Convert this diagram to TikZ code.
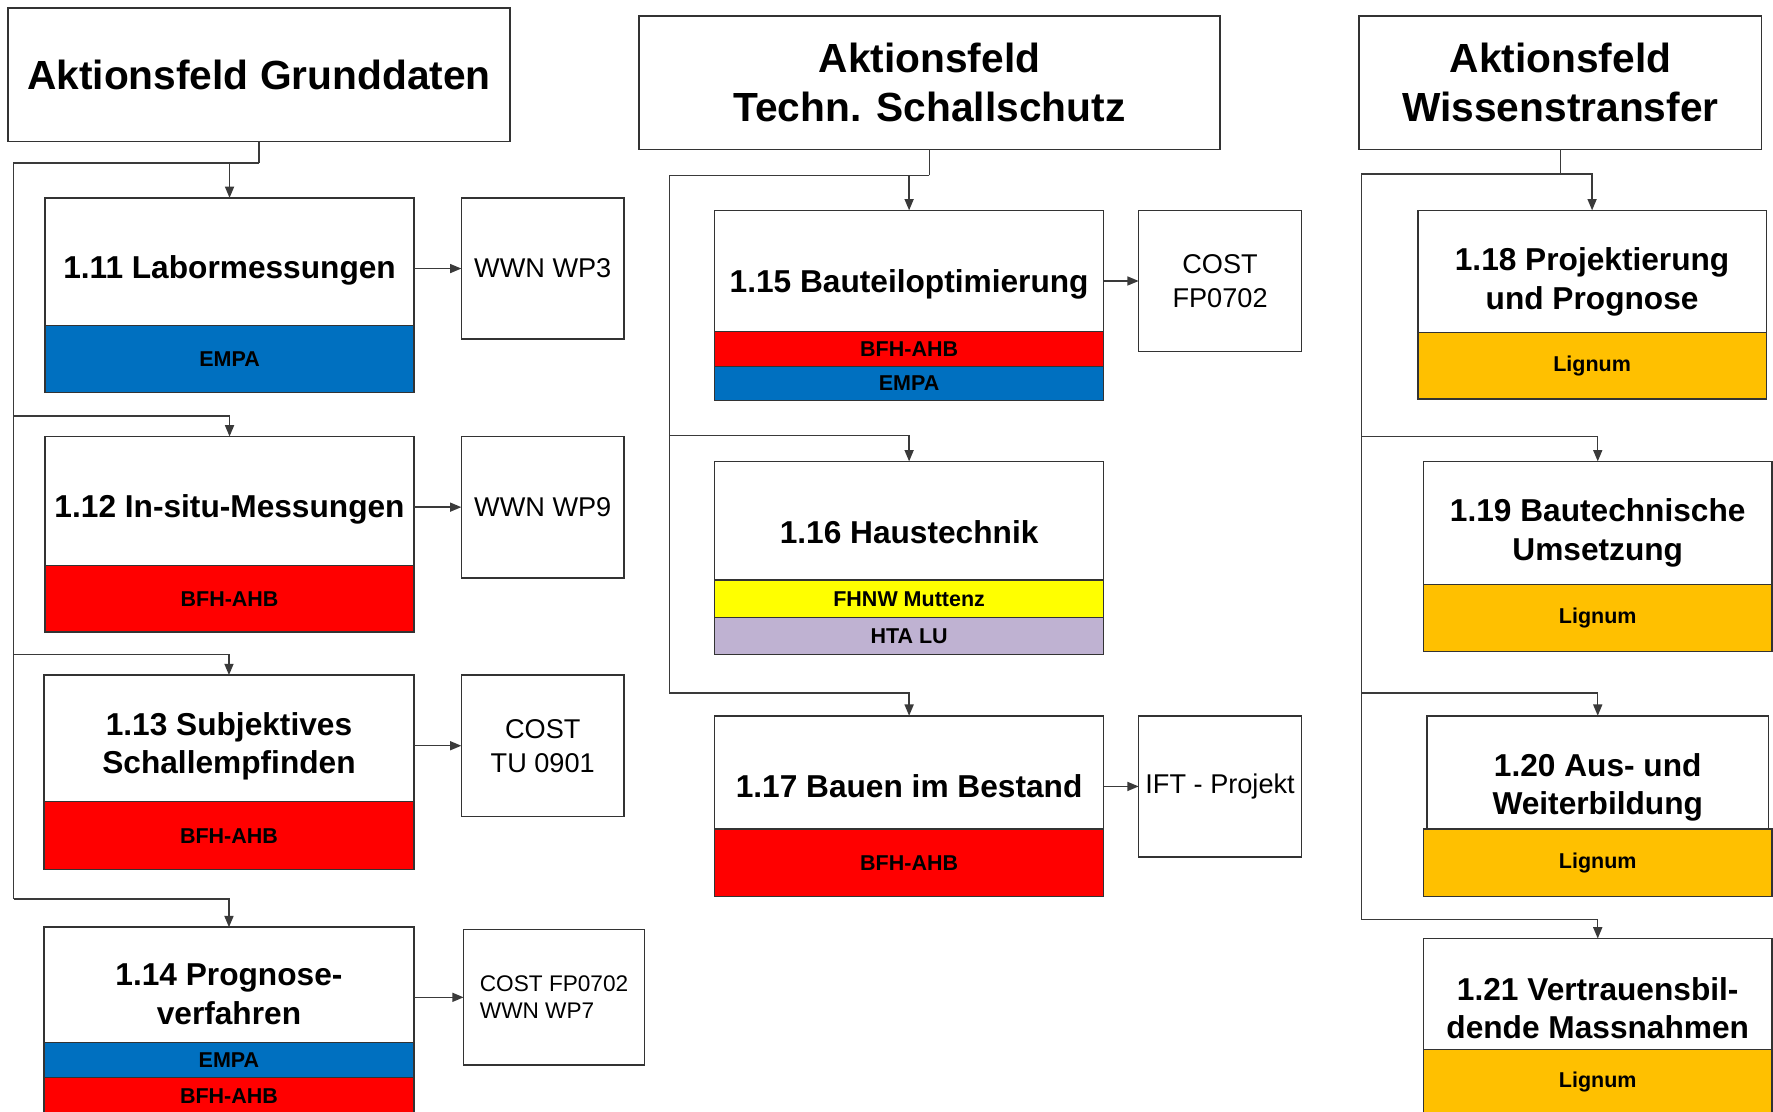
\documentclass[tikz,border=0pt]{standalone}
\usepackage{fontspec}
\setmainfont{Liberation Sans}
\usetikzlibrary{arrows.meta}
\definecolor{bordercol}{HTML}{333333}
\definecolor{linecol}{HTML}{3A3A3A}
\definecolor{empablue}{HTML}{0070C0}
\definecolor{bfhred}{HTML}{FF0000}
\definecolor{fhnwyellow}{HTML}{FFFF00}
\definecolor{htalav}{RGB}{191,178,210}
\definecolor{lignumorange}{HTML}{FFC000}
\begin{document}
\begin{tikzpicture}[x=1pt,y=-1pt,
  base/.style={draw=bordercol, line width=1.3pt, outer sep=0pt, inner sep=0pt, anchor=north west},
  hdr/.style={base, fill=white, font=\bfseries\fontsize{36}{43}\selectfont, align=center},
  task/.style={base, fill=white, font=\bfseries\fontsize{28}{34}\selectfont, align=center, text height=36pt},
  band/.style={base, font=\bfseries\fontsize{19}{21}\selectfont},
  side/.style={base, fill=white, font=\fontsize{24}{30}\selectfont, align=center},
  line/.style={draw=linecol, line width=1.3pt},
  arr/.style={line, -{Triangle[length=10pt,width=8pt]}}]
\clip (0,0) rectangle (1568,983);
\fill[white] (0,0) rectangle (1568,983);

% ---------- Column 1 ----------
\node[hdr, minimum width=444, minimum height=118] (h1) at (7,7) {Aktionsfeld Grunddaten};

\node[task, minimum width=326, minimum height=113] (t11) at (40,175) {1.11 Labormessungen};
\node[band, fill=empablue, minimum width=326, minimum height=59] (b11) at (40,288) {EMPA};
\node[side, minimum width=144, minimum height=125] (s11) at (408,175) {WWN WP3};

\node[task, minimum width=326, minimum height=114] (t12) at (40,386) {1.12 In-situ-Messungen};
\node[band, fill=bfhred, minimum width=326, minimum height=59] (b12) at (40,500) {BFH-AHB};
\node[side, minimum width=144, minimum height=125] (s12) at (408,386) {WWN WP9};

\node[task, text height=68pt, minimum width=327, minimum height=112] (t13) at (39,597) {1.13 Subjektives\\Schallempfinden};
\node[band, fill=bfhred, minimum width=327, minimum height=60] (b13) at (39,709) {BFH-AHB};
\node[side, minimum width=144, minimum height=125] (s13) at (408,597) {COST\\TU 0901};

\node[task, text height=70pt, minimum width=327, minimum height=102] (t14) at (39,820) {1.14 Prognose-\\verfahren};
\node[band, fill=empablue, minimum width=327, minimum height=31] (b14a) at (39,922) {EMPA};
\node[band, fill=bfhred, minimum width=327, minimum height=32] (b14b) at (39,953) {BFH-AHB};
\node[side, minimum width=160, minimum height=120, align=left, font=\fontsize{20}{24}\selectfont] (s14) at (410,822) {COST FP0702\\WWN WP7};

\coordinate (j1) at (229,144);
\coordinate (s1a) at (12,144);
\coordinate (s1b) at (12,795);
\coordinate (c12) at (12,368);
\coordinate (c13) at (12,579);
\draw[line] (h1.south) -- (j1);
\draw[arr] (j1) -| (t11.north);
\draw[line] (j1) -- (s1a) -- (s1b);
\draw[arr] (s1b) -| (t14.north);
\draw[arr] (c12) -| (t12.north);
\draw[arr] (c13) -| (t13.north);
\draw[arr] (t11.east |- s11.west) -- (s11.west);
\draw[arr] (t12.east |- s12.west) -- (s12.west);
\draw[arr] (t13.east |- s13.west) -- (s13.west);
\draw[arr] (t14.east |- s14.west) -- (s14.west);

% ---------- Column 2 ----------
\node[hdr, minimum width=514, minimum height=118] (h2) at (565,14) {Aktionsfeld\\Techn. Schallschutz};

\node[task, text height=44pt, minimum width=344, minimum height=107] (t15) at (632,186) {1.15 Bauteiloptimierung};
\node[band, fill=bfhred, minimum width=344, minimum height=31] (b15a) at (632,293) {BFH-AHB};
\node[band, fill=empablue, minimum width=344, minimum height=30] (b15b) at (632,324) {EMPA};
\node[side, minimum width=144, minimum height=125] (s15) at (1007,186) {COST\\FP0702};

\node[task, text height=40pt, minimum width=344, minimum height=105] (t16) at (632,408) {1.16 Haustechnik};
\node[band, fill=fhnwyellow, minimum width=344, minimum height=33] (b16a) at (632,513) {FHNW Muttenz};
\node[band, fill=htalav, minimum width=344, minimum height=33] (b16b) at (632,546) {HTA LU};

\node[task, text height=44pt, minimum width=344, minimum height=100] (t17) at (632,633) {1.17 Bauen im Bestand};
\node[band, fill=bfhred, minimum width=344, minimum height=60] (b17) at (632,733) {BFH-AHB};
\node[side, minimum width=144, minimum height=125] (s17) at (1007,633) {IFT - Projekt};

\coordinate (j2) at (822,155);
\coordinate (s2a) at (592,155);
\coordinate (s2b) at (592,613);
\coordinate (c16) at (592,385);
\draw[line] (h2.south) -- (j2);
\draw[arr] (j2) -| (t15.north);
\draw[line] (j2) -- (s2a) -- (s2b);
\draw[arr] (s2b) -| (t17.north);
\draw[arr] (c16) -| (t16.north);
\draw[arr] (t15.east |- s15.west) -- (s15.west);
\draw[arr] (t17.east |- s17.west) -- (s17.west);

% ---------- Column 3 ----------
\node[hdr, minimum width=356, minimum height=118] (h3) at (1202,14) {Aktionsfeld\\Wissenstransfer};

\node[task, text height=73pt, minimum width=308, minimum height=108] (t18) at (1254,186) {1.18 Projektierung\\und Prognose};
\node[band, fill=lignumorange, minimum width=308, minimum height=59] (b18) at (1254,294) {Lignum};

\node[task, text height=72pt, minimum width=308, minimum height=109] (t19) at (1259,408) {1.19 Bautechnische\\Umsetzung};
\node[band, fill=lignumorange, minimum width=308, minimum height=59] (b19) at (1259,517) {Lignum};

\node[task, text height=81pt, minimum width=302, minimum height=100] (t20) at (1262,633) {1.20 Aus- und\\Weiterbildung};
\node[band, fill=lignumorange, minimum width=308, minimum height=60] (b20) at (1259,733) {Lignum};

\node[task, text height=79pt, minimum width=308, minimum height=98] (t21) at (1259,830) {1.21 Vertrauensbil-\\dende Massnahmen};
\node[band, fill=lignumorange, minimum width=308, minimum height=58] (b21) at (1259,928) {Lignum};

\coordinate (j3) at (1380,154);
\coordinate (s3a) at (1204,154);
\coordinate (s3b) at (1204,813);
\coordinate (c19) at (1204,386);
\coordinate (c20) at (1204,613);
\draw[line] (h3.south) -- (j3);
\draw[arr] (s3a) -| (t18.north);
\draw[line] (s3a) -- (s3b);
\draw[arr] (s3b) -| (t21.north);
\draw[arr] (c19) -| (t19.north);
\draw[arr] (c20) -| (t20.north);
\end{tikzpicture}
\end{document}
